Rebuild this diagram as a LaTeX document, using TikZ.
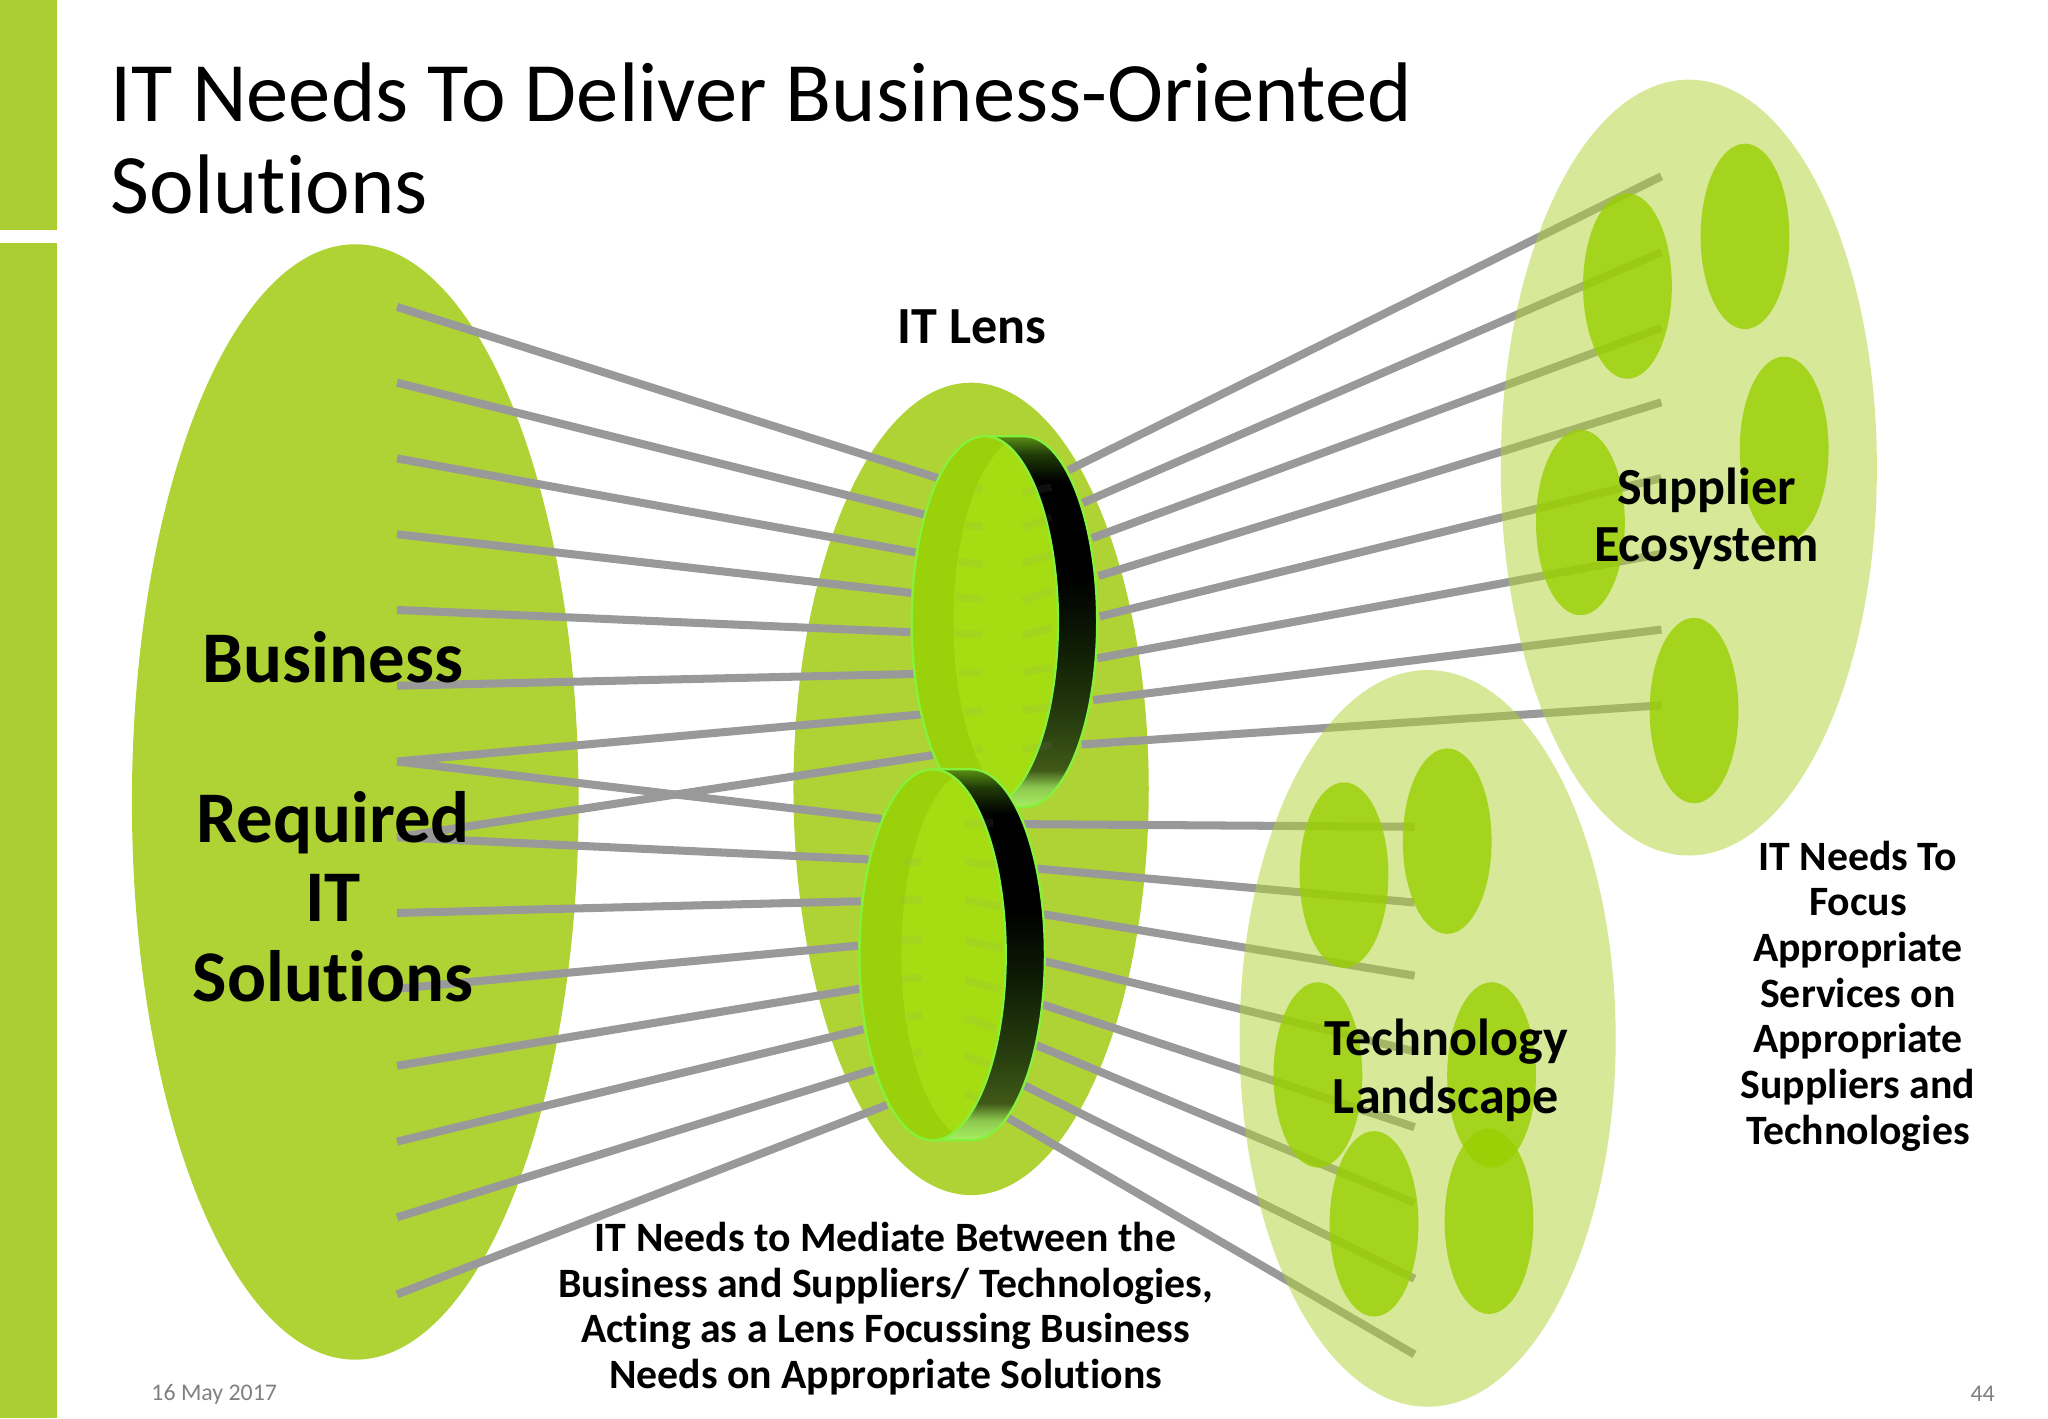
\documentclass[tikz,border=0pt]{standalone}
\usepackage{fontspec}
\setmainfont{Carlito}[Ligatures=NoCommon]
\usetikzlibrary{shapes.geometric}
\definecolor{barGreen}{HTML}{AACD31}
\definecolor{blobGreen}{HTML}{AFD334}
\definecolor{podGreen}{HTML}{99CF02}
\definecolor{rimGreen}{HTML}{9AD10B}
\definecolor{faceGreen}{HTML}{A5DC12}
\definecolor{edgeGreen}{HTML}{84F23A}
\definecolor{rayGrey}{HTML}{999999}
\pgfdeclareverticalshading{lensband}{100bp}{
	rgb(0bp)=(.66,.94,.38);
	rgb(25bp)=(.66,.94,.38);
	rgb(27.7bp)=(.55,.78,.31);
	rgb(30bp)=(.25,.35,.09);
	rgb(36bp)=(.16,.25,.06);
	rgb(46bp)=(.06,.12,.02);
	rgb(56bp)=(0,0,0);
	rgb(69bp)=(0,0,0);
	rgb(72.5bp)=(.12,.23,.03);
	rgb(75bp)=(.35,.56,.08);
	rgb(100bp)=(.35,.56,.08)}
\tikzset{
	blob/.style={ellipse,fill=blobGreen,inner sep=0},
	pale/.style={ellipse,fill=blobGreen,fill opacity=.5,inner sep=0,minimum width=2.88cm},
	pod/.style={ellipse,fill=podGreen,fill opacity=.8,inner sep=0,minimum width=.68cm,minimum height=1.42cm},
	ray/.style={draw=rayGrey,line width=1.75pt},
	stub/.style={draw=rayGrey,line width=1.6pt,opacity=.1},
	big/.style={inner sep=0,align=center,font=\fontsize{15.85}{17.35}\selectfont\bfseries},
	mid/.style={inner sep=0,align=center,font=\fontsize{11.35}{12.5}\selectfont\bfseries},
	small/.style={inner sep=0,align=center,font=\fontsize{9.1}{9.95}\selectfont\bfseries},
	foot/.style={inner sep=0,text=black!50,font=\fontsize{5.2}{6}\selectfont}
}
\begin{document}
\begin{tikzpicture}[x=1cm,y=-1cm]
	\useasboundingbox (0,0) rectangle (15.68,10.86);
	\fill[barGreen] (0,0) rectangle (.44,1.76);
	\fill[barGreen] (0,1.86) rectangle (.44,10.86);

	\node[blob,minimum width=3.42cm,minimum height=8.54cm] (business) at (2.72,6.14) {};
	\node[blob,minimum width=2.72cm,minimum height=6.22cm] (lensback) at (7.435,6.04) {};

	% ends of the rays
	\foreach \i/\y in {1/2.35,2/2.93,3/3.51,4/4.09,5/4.67,6/5.25,7/5.83,8/6.41,9/6.99,10/7.57,11/8.16,12/8.74,13/9.32,14/9.91}
		\coordinate (biz\i) at (3.04,\y);
	\foreach \i/\x/\y in {1/7.18/3.66,2/7.08/3.94,3/7.01/4.23,4/6.98/4.54,5/6.97/4.84,6/7.00/5.16,7/7.05/5.47,8/7.15/5.78,
		9/6.75/6.27,10/6.65/6.58,11/6.59/6.90,12/6.57/7.24,13/6.58/7.57,14/6.61/7.88,15/6.69/8.19,16/6.79/8.46}
		\coordinate (in\i) at (\x,\y);
	\foreach \i/\x/\y in {1/8.18/3.60,2/8.29/3.85,3/8.36/4.12,4/8.41/4.41,5/8.42/4.72,6/8.40/5.04,7/8.37/5.36,8/8.28/5.70,
		9/7.84/6.31,10/7.94/6.65,11/7.99/7.00,12/8.00/7.36,13/7.98/7.69,14/7.93/8.00,15/7.84/8.31,16/7.72/8.56}
		\coordinate (out\i) at (\x,\y);
	\foreach \i/\y in {1/1.35,2/1.93,3/2.51,4/3.08,5/3.66,6/4.24,7/4.82,8/5.40}
		\coordinate (supend\i) at (12.72,\y);
	\foreach \i/\y in {1/6.33,2/6.91,3/7.47,4/8.05,5/8.63,6/9.21,7/9.79,8/10.37}
		\coordinate (tecend\i) at (10.83,\y);

	\foreach \a/\b in {1/1,2/2,3/3,4/4,5/5,6/6,7/7,8/8,7/9,8/10,9/11,10/12,11/13,12/14,13/15,14/16}
		\draw[ray] (biz\a) -- (in\b);
	\foreach \i in {1,...,8}
		\draw[ray] (out\i) -- (supend\i);
	\foreach \i [evaluate=\i as \j using int(\i+8)] in {1,...,8}
		\draw[ray] (out\j) -- (tecend\i);

	% the rays show through these
	\node[pale,minimum height=5.94cm] (supplier) at (12.93,3.58) {};
	\node[pale,minimum height=5.64cm] (landscape) at (10.93,7.95) {};
	\foreach \n/\x/\y in {a/12.46/2.19,b/13.36/1.81,c/13.66/3.44,d/12.10/4.00,e/12.97/5.44}
		\node[pod] (sup\n) at (\x,\y) {};
	\foreach \n/\x/\y in {a/10.29/6.70,b/11.08/6.44,c/11.42/8.23,d/10.09/8.23,e/10.52/9.37,f/11.40/9.35}
		\node[pod] (tec\n) at (\x,\y) {};

	% the two lenses
	\foreach \cx/\cy/\bx in {7.54/4.76/7.84,7.14/7.31/7.44}
	{
		\draw[edgeGreen,line width=.5pt,shading=lensband,shading angle=0]
			(\cx,\cy-1.42) -- (\bx,\cy-1.42) arc[start angle=-90,end angle=90,x radius=.56,y radius=1.42] -- (\cx,\cy+1.42) -- cycle;
		\fill[rimGreen] (\cx,\cy) ellipse[x radius=.56,y radius=1.42];
		\begin{scope}
			\clip (\cx,\cy) ellipse[x radius=.56,y radius=1.42];
			\fill[faceGreen] (\cx+.32,\cy) ellipse[x radius=.56,y radius=1.42];
		\end{scope}
		\draw[edgeGreen,line width=.5pt] (\cx,\cy) ellipse[x radius=.56,y radius=1.42];
	}
	\foreach \xa/\ya/\xb/\yb in {7.47/3.74/7.52/3.75,7.39/4.02/7.52/4.03,7.34/4.30/7.52/4.32,7.31/4.57/7.52/4.59,7.31/4.85/7.52/4.86,7.34/5.15/7.52/5.15,7.38/5.45/7.52/5.44,7.47/5.74/7.52/5.73,
		7.83/3.77/8.05/3.73,7.83/4.04/8.05/3.96,7.83/4.31/8.05/4.25,7.83/4.60/8.05/4.52,7.83/4.86/8.05/4.81,7.83/5.15/8.05/5.11,7.83/5.44/8.05/5.41,7.83/5.74/8.05/5.70,
		6.92/6.60/7.06/6.60,6.88/6.89/7.06/6.89,6.88/7.20/7.06/7.19,6.90/7.50/7.06/7.48,6.95/7.79/7.06/7.77,7.00/8.08/7.06/8.05,
		7.39/6.30/7.60/6.30,7.39/6.60/7.62/6.62,7.39/6.89/7.66/6.94,7.39/7.20/7.67/7.26,7.39/7.50/7.66/7.58,7.39/7.79/7.62/7.87,7.39/8.08/7.57/8.15,7.39/8.37/7.49/8.42}
		\draw[stub] (\xa,\ya) -- (\xb,\yb);

	\node[anchor=north west,inner sep=0,align=left,font=\fontsize{18.42}{19.9}\selectfont] (title) at (.84,.475) {IT Needs To Deliver Business-Oriented\\Solutions};
	\node[big] (bizlabel) at (2.55,6.255) {Business\\[17.35pt]Required\\IT\\Solutions};
	\node[mid] (lenslabel) at (7.44,2.505) {IT Lens};
	\node[mid] (suplabel) at (13.065,3.97) {Supplier\\Ecosystem};
	\node[mid] (teclabel) at (11.07,8.195) {Technology\\Landscape};
	\node[small] (focuslabel) at (14.225,7.625) {IT Needs To\\Focus\\Appropriate\\Services on\\Appropriate\\Suppliers and\\Technologies};
	\node[small] (mediatelabel) at (6.78,10.02) {IT Needs to Mediate Between the\\Business and Suppliers/ Technologies,\\Acting as a Lens Focussing Business\\Needs on Appropriate Solutions};
	\node[foot] (datelabel) at (1.64,10.675) {16 May 2017};
	\node[foot] (pagelabel) at (15.18,10.675) {44};
\end{tikzpicture}
\end{document}
